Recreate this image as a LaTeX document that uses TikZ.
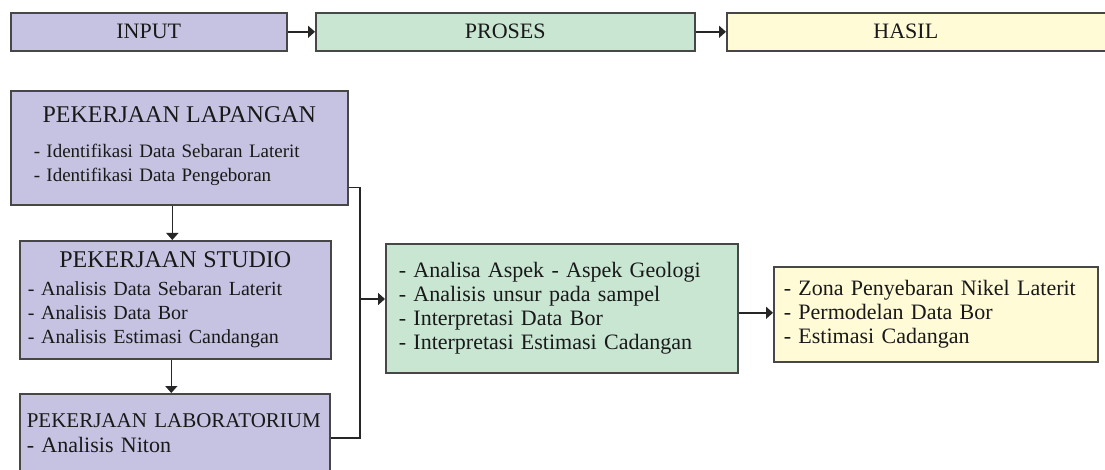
\documentclass[tikz,border=0pt]{standalone}
\usepackage{fontspec}
\setmainfont{Liberation Serif}
\usetikzlibrary{arrows.meta}
\definecolor{lav}{HTML}{C5C3E1}
\definecolor{mint}{HTML}{C9E6D3}
\definecolor{cream}{HTML}{FFFBD7}
\definecolor{bordr}{HTML}{474747}

\begin{document}
\begin{tikzpicture}[x=1pt, y=-1pt,
	box/.style={draw=bordr, line width=1.6pt, anchor=north west, align=left, inner ysep=0pt, text=black!90},
	topbox/.style={box, align=center, minimum height=38pt, font=\fontsize{22}{24}\selectfont},
	link/.style={line width=1.6pt, color=black!85},
	arr/.style={link, -{Triangle[length=7pt, width=12pt]}}]
			%%%%% START %%%%%
			
			\useasboundingbox (0, 0) rectangle (1105, 470);
			
			% top row
			\node[topbox, fill=lav, minimum width=276pt] (inp) at (10, 12) {INPUT};
			\node[topbox, fill=mint, minimum width=379pt] (prs) at (315, 12) {PROSES};
			\node[topbox, fill=cream, minimum width=390pt] (hsl) at (726, 12) {\hspace*{-32pt}HASIL};
			
			\draw[arr] (inp) -- (prs);
			\draw[arr] (prs) -- (hsl);
			
			% input column
			\node[box, fill=lav, minimum width=337pt, minimum height=114pt, inner xsep=23pt, text width=291pt,
				font=\fontsize{19}{24}\selectfont] (lap) at (10, 90)
				{\hfill{\fontsize{24}{24}\selectfont PEKERJAAN LAPANGAN}\hfill\null\\[11pt]
				- Identifikasi Data Sebaran Laterit\\
				- Identifikasi Data Pengeboran\\[-16pt]\null};
			
			\node[box, fill=lav, minimum width=311pt, minimum height=118pt, inner xsep=8pt, text width=295pt,
				font=\fontsize{20}{24}\selectfont] (stu) at (19, 240)
				{\hfill{\fontsize{24}{24}\selectfont PEKERJAAN STUDIO}\hfill\null\\[4pt]
				- Analisis Data Sebaran Laterit\\
				- Analisis Data Bor\\
				- Analisis Estimasi Candangan};
			
			\node[box, fill=lav, minimum width=310pt, minimum height=78pt, inner xsep=7pt, text width=296pt,
				font=\fontsize{22}{25}\selectfont] (lab) at (19, 393)
				{{\fontsize{21}{24}\selectfont PEKERJAAN LABORATORIUM}\\[0pt]
				- Analisis Niton};
			
			\draw[arr] ([xshift=-7pt]lap.south) -- ([xshift=-7pt]lap.south |- stu.north);
			\draw[arr] ([xshift=-4pt]stu.south) -- ([xshift=-4pt]stu.south |- lab.north);
			
			% proses and hasil
			\node[box, fill=mint, minimum width=352pt, minimum height=129pt, inner xsep=13pt, text width=326pt,
				font=\fontsize{22}{24}\selectfont] (pro) at (385, 243)
				{- Analisa Aspek - Aspek Geologi\\
				- Analisis unsur pada sampel\\
				- Interpretasi Data Bor\\
				- Interpretasi Estimasi Cadangan};
			
			\node[box, fill=cream, minimum width=324pt, minimum height=95pt, inner xsep=10pt, text width=304pt,
				font=\fontsize{22}{24}\selectfont] (has) at (773, 266)
				{- Zona Penyebaran Nikel Laterit\\
				- Permodelan Data Bor\\
				- Estimasi Cadangan};
			
			\coordinate (jn) at (360, 299);
			\draw[link] ([yshift=18pt]lap.south east) -| (jn);
			\draw[link] ([yshift=-45pt]lab.north east) -| (jn);
			\draw[arr] (jn) -- (jn -| pro.west);
			\draw[arr] ([yshift=1.5pt]has.west -| pro.east) -- ([yshift=1.5pt]has.west);
			
			%%%%% END %%%%%
\end{tikzpicture}
\end{document}
